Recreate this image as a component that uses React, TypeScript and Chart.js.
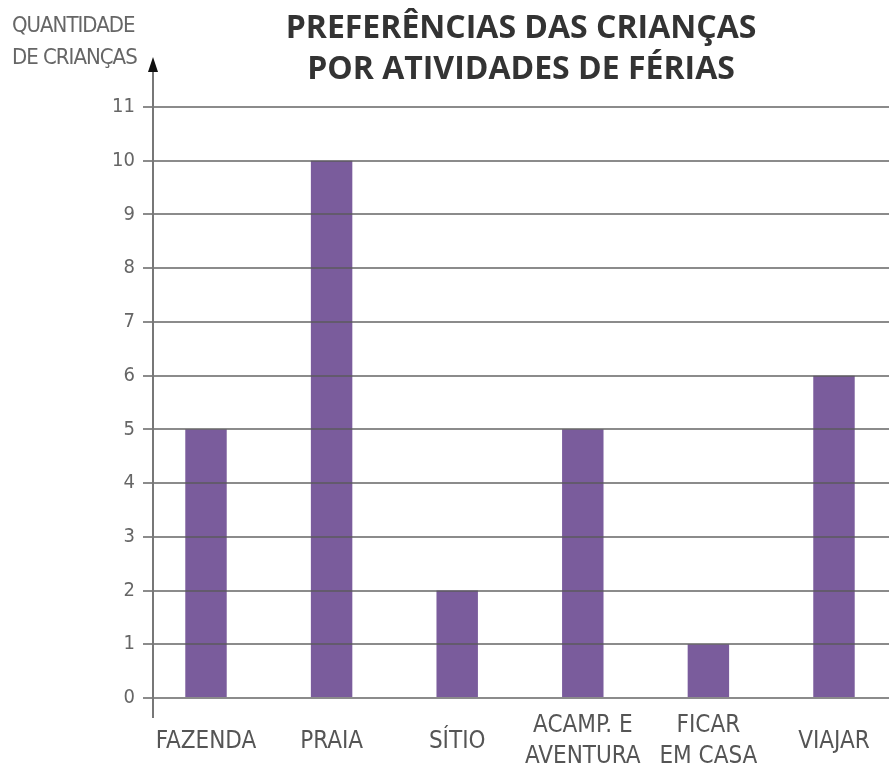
import React, { useEffect, useRef } from "react";
import { Chart, registerables } from "chart.js";

Chart.register(...registerables);

const categories: (string | string[])[] = [
  "FAZENDA",
  "PRAIA",
  "SÍTIO",
  ["ACAMP. E", "AVENTURA"],
  ["FICAR", "EM CASA"],
  "VIAJAR",
];
const values = [5, 10, 2, 5, 1, 6];
const titleLines = ["PREFERÊNCIAS DAS CRIANÇAS", "POR ATIVIDADES DE FÉRIAS"];
const yTitleLines = ["QUANTIDADE", "DE CRIANÇAS"];
const yMax = 11;

const NARROW = '"DejaVu Sans Condensed", "Liberation Sans Narrow", sans-serif';

const decorPlugin = {
  id: "decor",
  beforeInit(chart: any) {
    chart.ctx.letterSpacing = "-1px";
  },
  afterDraw(chart: any) {
    const { ctx, chartArea } = chart;
    const x = chartArea.left;
    ctx.save();
    // y axis line with arrow
    ctx.strokeStyle = "#777";
    ctx.lineWidth = 2;
    ctx.beginPath();
    ctx.moveTo(x, chartArea.bottom + 20);
    ctx.lineTo(x, chartArea.top - 38);
    ctx.stroke();
    ctx.fillStyle = "#111";
    ctx.beginPath();
    ctx.moveTo(x, chartArea.top - 50);
    ctx.lineTo(x - 5, chartArea.top - 35);
    ctx.lineTo(x + 5, chartArea.top - 35);
    ctx.closePath();
    ctx.fill();
    // y axis title
    ctx.letterSpacing = "-1px";
    ctx.fillStyle = "#666";
    ctx.font = `22px ${NARROW}`;
    ctx.textAlign = "left";
    ctx.textBaseline = "middle";
    ctx.fillText(yTitleLines[0], 12, 26);
    ctx.fillText(yTitleLines[1], 12, 58);
    // title
    ctx.letterSpacing = "0px";
    ctx.fillStyle = "#333";
    ctx.font = 'bold 32px "Open Sans", sans-serif';
    ctx.textAlign = "center";
    const cx = (chartArea.left + chartArea.right) / 2;
    ctx.fillText(titleLines[0], cx, 29);
    ctx.fillText(titleLines[1], cx, 70);
    ctx.restore();
  },
};

export default function App() {
  const ref = useRef<HTMLCanvasElement>(null);
  useEffect(() => {
    if (!ref.current) return;
    const chart = new Chart(ref.current, {
      type: "bar",
      data: {
        datasets: [
          {
            data: values.map((v, i) => ({ x: i, y: v })),
            backgroundColor: "#7a5c9c",
            borderWidth: 0,
            barPercentage: 0.33,
            categoryPercentage: 1,
          },
        ],
      },
      options: {
        animation: false,
        responsive: false,
        maintainAspectRatio: false,
        layout: { padding: { top: 107, left: 0, right: 0, bottom: 0 } },
        plugins: {
          legend: { display: false },
          tooltip: { enabled: false },
          title: { display: false },
        },
        scales: {
          x: {
            type: "linear",
            offset: false,
            min: -0.422,
            max: 5.438,
            grid: { display: false, drawTicks: false, offset: false },
            border: { display: false },
            afterBuildTicks: (scale: any) => {
              scale.ticks = categories.map((_, i) => ({ value: i }));
            },
            afterFit: (scale: any) => {
              scale.height = 66;
              scale.paddingLeft = 0;
              scale.paddingRight = 0;
            },
            ticks: {
              autoSkip: false,
              maxRotation: 0,
              minRotation: 0,
              padding: 28,
              crossAlign: "center",
              color: "#555",
              font: { family: NARROW, size: 24, lineHeight: 1.3 },
              callback: (v: any) => {
                const i = Math.round(Number(v));
                return categories[i] ?? "";
              },
            },
          },
          y: {
            min: 0,
            max: yMax,
            border: { display: false },
            grid: {
              color: "rgba(90,90,90,0.7)",
              lineWidth: 2,
              tickLength: 10,
              drawTicks: true,
              z: 1,
            },
            afterFit: (scale: any) => {
              scale.width = 153;
              scale.paddingTop = 0;
              scale.paddingBottom = 0;
            },
            ticks: {
              stepSize: 1,
              padding: 8,
              color: "#666",
              font: { family: NARROW, size: 20 },
            },
          },
        },
      },
      plugins: [decorPlugin],
    });
    return () => chart.destroy();
  }, []);
  return (
    <div style={{ position: "absolute", left: 0, top: 0, width: 889, height: 764, background: "#fff" }}>
      <canvas ref={ref} width={889} height={764} style={{ display: "block" }} />
    </div>
  );
}
